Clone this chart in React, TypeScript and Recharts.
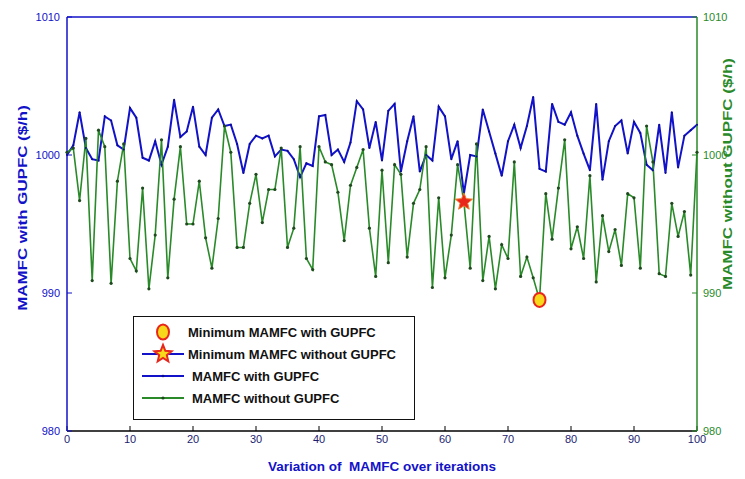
import React from 'react';
import { ComposedChart, Line, XAxis, YAxis, ReferenceLine, ReferenceDot } from 'recharts';

const iterations = [
  0, 1, 2, 3, 4, 5, 6, 7, 8, 9, 10, 11, 12, 13, 14, 15, 16, 17, 18, 19, 20,
  21, 22, 23, 24, 25, 26, 27, 28, 29, 30, 31, 32, 33, 34, 35, 36, 37, 38, 39, 40,
  41, 42, 43, 44, 45, 46, 47, 48, 49, 50, 51, 52, 53, 54, 55, 56, 57, 58, 59, 60,
  61, 62, 63, 64, 65, 66, 67, 68, 69, 70, 71, 72, 73, 74, 75, 76, 77, 78, 79, 80,
  81, 82, 83, 84, 85, 86, 87, 88, 89, 90, 91, 92, 93, 94, 95, 96, 97, 98, 99, 100,
];

const mamfcWithGUPFC = [
  1000.0, 1000.7, 1003.1, 1000.5, 999.7, 999.6, 1002.8, 1002.5, 1000.7, 1000.4,
  1003.4, 1002.7, 999.8, 999.6, 1001.0, 999.3, 1000.6, 1004.0, 1001.3, 1001.7,
  1003.5, 1000.6, 1000.0, 1002.7, 1003.3, 1002.1, 1002.2, 1000.8, 998.7, 1000.8,
  1001.4, 1001.2, 1001.4, 999.9, 1000.4, 1000.3, 999.7, 998.4, 999.4, 999.2,
  1002.8, 1002.9, 1000.0, 1000.4, 999.5, 1000.9, 1003.9, 1003.3, 1000.5, 1002.4,
  999.6, 1003.2, 1003.7, 998.8, 1001.0, 1002.8, 998.8, 1000.0, 999.6, 1003.5,
  1002.8, 999.7, 1001.0, 997.2, 1000.0, 999.9, 1003.3, 1001.7, 1000.1, 998.5,
  1001.0, 1002.2, 1000.5, 1002.1, 1004.2, 999.0, 998.8, 1003.7, 1002.4, 1002.2,
  1003.1, 1001.4, 1000.1, 998.9, 1003.7, 998.2, 1001.0, 1002.1, 1002.5, 1000.1,
  1002.4, 1001.6, 999.3, 998.9, 1002.2, 998.7, 1003.1, 999.1, 1001.4, 1001.8,
  1002.2,
];

const mamfcWithoutGUPFC = [
  1000.2, 1000.5, 996.7, 1001.2, 990.9, 1001.8, 1000.6, 990.7, 998.1, 1000.8,
  992.5, 991.6, 997.6, 990.3, 994.2, 1001.1, 991.1, 996.8, 1000.6, 995.0,
  995.0, 998.1, 994.0, 991.8, 995.4, 1002.1, 1000.2, 993.3, 993.3, 996.5,
  998.6, 995.1, 997.5, 997.5, 1000.5, 993.3, 994.7, 1000.6, 992.5, 991.7,
  1000.6, 999.5, 999.3, 997.3, 993.8, 997.8, 999.1, 1000.4, 994.7, 991.2,
  998.9, 992.2, 999.3, 998.6, 992.6, 996.5, 997.5, 1000.6, 990.4, 996.9,
  991.1, 994.2, 999.3, 996.6, 991.8, 1000.8, 990.9, 994.1, 990.3, 993.5,
  992.5, 999.5, 991.2, 992.6, 991.1, 989.5, 997.2, 993.9, 997.6, 1001.1,
  993.2, 994.8, 992.5, 998.5, 990.8, 995.6, 993.0, 994.6, 992.0, 997.2,
  996.9, 991.8, 1002.1, 999.5, 991.4, 991.2, 996.5, 994.1, 995.9, 991.3,
  1000.2,
];

const xTicks = [0, 10, 20, 30, 40, 50, 60, 70, 80, 90, 100];
const yTicks = [980, 990, 1000, 1010];
const yDomain = [980, 1010];

const circleMarker = { iteration: 75, value: 989.5 };
const starMarker = { iteration: 63, value: 996.6 };

const legendLabels = [
  'Minimum MAMFC with GUPFC',
  'Minimum MAMFC without GUPFC',
  'MAMFC with GUPFC',
  'MAMFC without GUPFC',
];

const FONT = '"Liberation Sans", Arial, Helvetica, sans-serif';
const BLUE = '#1212c8';
const GREEN = '#2a8a2a';
const GREEN_DOT = '#1e4a1e';
const TICK_NAVY = '#1c1c70';
const MARK_RED = '#e8261c';
const MARK_YELLOW = '#f8d81a';

const data = iterations.map((it, i) => ({
  it,
  withG: mamfcWithGUPFC[i],
  withoutG: mamfcWithoutGUPFC[i],
}));

function starPoints(cx: number, cy: number, R: number, r: number) {
  const pts: string[] = [];
  for (let k = 0; k < 10; k++) {
    const a = ((-90 + k * 36) * Math.PI) / 180;
    const rad = k % 2 === 0 ? R : r;
    pts.push(`${cx + rad * Math.cos(a)},${cy + rad * Math.sin(a)}`);
  }
  return pts.join(' ');
}

const StarShape = (p: any) => (
  <polygon
    points={starPoints(p.cx, p.cy, 9, 4)}
    fill={MARK_RED}
    stroke="#f07a2a"
    strokeWidth={1}
  />
);

const CircleShape = (p: any) => (
  <ellipse cx={p.cx} cy={p.cy} rx={6} ry={7} fill={MARK_YELLOW} stroke={MARK_RED} strokeWidth={2} />
);

const GreenDot = (p: any) => (
  <circle key={`g${p.index}`} cx={p.cx} cy={p.cy} r={1.6} fill={GREEN_DOT} />
);

const BlueDot = (p: any) => (
  <circle key={`b${p.index}`} cx={p.cx} cy={p.cy} r={1} fill="#0a0a90" />
);

function LegendBox() {
  const rowH = 22;
  const rows = [0, 1, 2, 3];
  return (
    <div
      style={{
        position: 'absolute',
        left: 133,
        top: 316,
        width: 282,
        height: 104,
        border: '1.5px solid #111',
        background: '#fff',
        boxSizing: 'border-box',
      }}
    >
      <svg width={279} height={101} style={{ position: 'absolute', left: 0, top: 0 }}>
        {rows.map((r) => {
          const cy = 15 + r * rowH;
          const textX = r < 2 ? 54 : 58;
          return (
            <g key={r}>
              {r === 1 && <line x1={8} x2={50} y1={cy} y2={cy} stroke={BLUE} strokeWidth={2} />}
              {r === 2 && <line x1={8} x2={50} y1={cy} y2={cy} stroke={BLUE} strokeWidth={2} />}
              {r === 3 && <line x1={8} x2={50} y1={cy} y2={cy} stroke={GREEN} strokeWidth={2} />}
              {r === 0 && (
                <ellipse cx={29} cy={cy} rx={6} ry={7.5} fill={MARK_YELLOW} stroke={MARK_RED} strokeWidth={2} />
              )}
              {r === 1 && (
                <polygon points={starPoints(29, cy, 9, 4)} fill={MARK_YELLOW} stroke={MARK_RED} strokeWidth={2} />
              )}
              {r === 2 && <circle cx={29} cy={cy} r={1.3} fill="#0a0a90" />}
              {r === 3 && <circle cx={29} cy={cy} r={1.6} fill={GREEN_DOT} />}
              <text
                x={textX}
                y={cy + 4.5}
                fontSize={13}
                fontWeight="bold"
                fill="#111"
                fontFamily={FONT}
              >
                {legendLabels[r]}
              </text>
            </g>
          );
        })}
      </svg>
    </div>
  );
}

export default function App() {
  return (
    <div
      style={{
        position: 'absolute',
        left: 0,
        top: 0,
        width: 745,
        height: 479,
        background: '#fff',
        fontFamily: FONT,
        overflow: 'hidden',
      }}
    >
      <ComposedChart
        width={745}
        height={479}
        data={data}
        margin={{ top: 17, right: 0, bottom: 0, left: 0 }}
      >
        <XAxis
          dataKey="it"
          type="number"
          domain={[0, 100]}
          ticks={xTicks}
          height={48}
          interval={0}
          axisLine={{ stroke: '#000', strokeWidth: 1.5 }}
          tickLine={{ stroke: '#000', strokeWidth: 1 }}
          tickSize={-5}
          tickMargin={9}
          tick={{ fill: TICK_NAVY, fontSize: 11, fontFamily: FONT }}
        />
        <YAxis
          yAxisId="left"
          domain={yDomain}
          ticks={yTicks}
          width={67}
          interval={0}
          axisLine={{ stroke: BLUE, strokeWidth: 1.5 }}
          tickLine={{ stroke: BLUE, strokeWidth: 1 }}
          tickSize={-5}
          tickMargin={12}
          tick={{ fill: BLUE, fontSize: 11, fontFamily: FONT }}
        />
        <YAxis
          yAxisId="right"
          orientation="right"
          domain={yDomain}
          ticks={yTicks}
          width={48}
          interval={0}
          axisLine={{ stroke: GREEN, strokeWidth: 1.5 }}
          tickLine={{ stroke: GREEN, strokeWidth: 1 }}
          tickSize={-5}
          tickMargin={11}
          tick={{ fill: GREEN, fontSize: 11, fontFamily: FONT }}
        />
        <ReferenceLine yAxisId="left" y={1010} stroke={BLUE} strokeWidth={1.5} />
        <Line
          yAxisId="left"
          dataKey="withG"
          type="linear"
          stroke={BLUE}
          strokeWidth={2}
          dot={BlueDot}
          activeDot={false}
          isAnimationActive={false}
        />
        <Line
          yAxisId="right"
          dataKey="withoutG"
          type="linear"
          stroke={GREEN}
          strokeWidth={1.6}
          dot={GreenDot}
          activeDot={false}
          isAnimationActive={false}
        />
        <ReferenceDot
          yAxisId="left"
          x={starMarker.iteration}
          y={starMarker.value}
          shape={StarShape}
        />
        <ReferenceDot
          yAxisId="left"
          x={circleMarker.iteration}
          y={circleMarker.value}
          shape={CircleShape}
        />
      </ComposedChart>
      <LegendBox />
      <div
        style={{
          position: 'absolute',
          left: 22,
          top: 208,
          transform: 'translate(-50%, -50%) rotate(-90deg) scaleX(1.3)',
          whiteSpace: 'nowrap',
          color: BLUE,
          fontWeight: 'bold',
          fontSize: 13,
        }}
      >
        MAMFC with GUPFC ($/h)
      </div>
      <div
        style={{
          position: 'absolute',
          left: 727,
          top: 174,
          transform: 'translate(-50%, -50%) rotate(-90deg) scaleX(1.3)',
          whiteSpace: 'nowrap',
          color: GREEN,
          fontWeight: 'bold',
          fontSize: 13,
        }}
      >
        MAMFC without GUPFC ($/h)
      </div>
      <div
        style={{
          position: 'absolute',
          left: 382,
          top: 466,
          transform: 'translate(-50%, -50%)',
          whiteSpace: 'nowrap',
          color: BLUE,
          fontWeight: 'bold',
          fontSize: 13.5,
        }}
      >
        Variation of&nbsp; MAMFC over iterations
      </div>
    </div>
  );
}
